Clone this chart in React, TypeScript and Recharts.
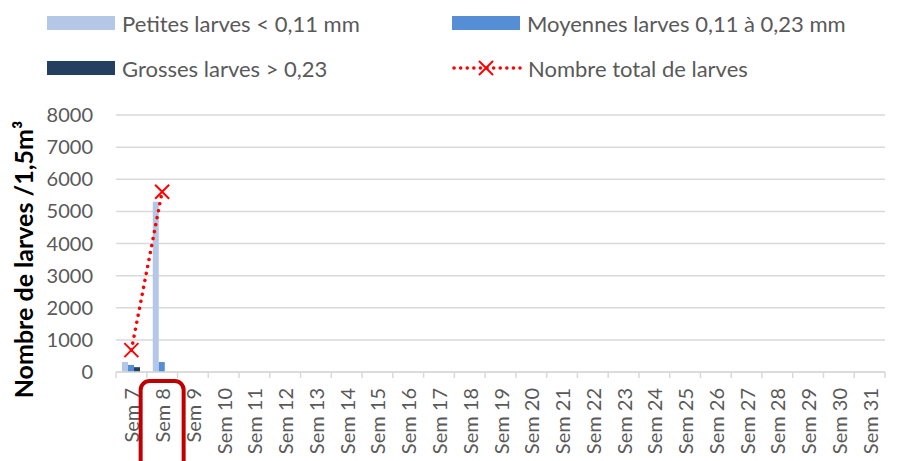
import React from 'react';
import { ComposedChart, Bar, Line, XAxis, YAxis, CartesianGrid } from 'recharts';

const weeks = [
  'Sem 7', 'Sem 8', 'Sem 9', 'Sem 10', 'Sem 11', 'Sem 12', 'Sem 13', 'Sem 14', 'Sem 15',
  'Sem 16', 'Sem 17', 'Sem 18', 'Sem 19', 'Sem 20', 'Sem 21', 'Sem 22', 'Sem 23', 'Sem 24',
  'Sem 25', 'Sem 26', 'Sem 27', 'Sem 28', 'Sem 29', 'Sem 30', 'Sem 31',
];

// larves / 1,5 m3, only weeks 7 and 8 were sampled
const petites = [310, 5300, null, null, null, null, null, null, null, null, null, null, null, null, null, null, null, null, null, null, null, null, null, null, null];
const moyennes = [220, 310, null, null, null, null, null, null, null, null, null, null, null, null, null, null, null, null, null, null, null, null, null, null, null];
const grosses = [150, 0, null, null, null, null, null, null, null, null, null, null, null, null, null, null, null, null, null, null, null, null, null, null, null];
const totals = [680, 5610, null, null, null, null, null, null, null, null, null, null, null, null, null, null, null, null, null, null, null, null, null, null, null];

const yTicks = [0, 1000, 2000, 3000, 4000, 5000, 6000, 7000, 8000];
const highlighted = 'Sem 8';

const COLORS = {
  petites: '#B4C7E7',
  moyennes: '#558ED5',
  grosses: '#243F60',
  total: '#FF0000',
  grid: '#D9D9D9',
  text: '#595959',
  box: '#C00000',
};

const FONT = 'Lato, "Open Sans", sans-serif';

const data = weeks.map((week, i) => ({
  week,
  petites: petites[i],
  moyennes: moyennes[i],
  grosses: grosses[i],
  total: totals[i],
}));

const Cross = ({ cx, cy, size = 7, width = 2 }: { cx: number; cy: number; size?: number; width?: number }) => (
  <g stroke={COLORS.total} strokeWidth={width}>
    <line x1={cx - size} y1={cy - size} x2={cx + size} y2={cy + size} />
    <line x1={cx - size} y1={cy + size} x2={cx + size} y2={cy - size} />
  </g>
);

const TotalDot = (props: any) => {
  const { cx, cy, value, index } = props;
  if (value == null || cx == null || cy == null) return <g key={`d-${index}`} />;
  return <Cross key={`d-${index}`} cx={cx} cy={cy} />;
};

// Excel style: tick marks between categories, vertical labels
const WeekTick = (props: any) => {
  const { x, y, payload, index, visibleTicksCount } = props;
  const half = payload && payload.offset ? payload.offset : 15.4;
  const ty = y + 16;
  return (
    <g>
      <line x1={x - half} y1={y} x2={x - half} y2={y + 6} stroke={COLORS.grid} strokeWidth={1.5} />
      {index === visibleTicksCount - 1 && (
        <line x1={x + half} y1={y} x2={x + half} y2={y + 6} stroke={COLORS.grid} strokeWidth={1.5} />
      )}
      <text
        x={x}
        y={ty}
        transform={`rotate(-90, ${x}, ${ty})`}
        textAnchor="end"
        dominantBaseline="central"
        fill={COLORS.text}
        fontSize={20}
        fontFamily={FONT}
      >
        {payload.value}
      </text>
      {payload.value === highlighted && (
        <rect x={x - 21.5} y={y + 9} width={43} height={110} rx={9} fill="none" stroke={COLORS.box} strokeWidth={4} />
      )}
    </g>
  );
};

const YTitle = (props: any) => {
  const vb = props.viewBox || { x: 0, y: 115, width: 116, height: 257 };
  const tx = vb.x + 23;
  const ty = vb.y + vb.height / 2 + 16;
  return (
    <text
      x={tx}
      y={ty}
      transform={`rotate(-90, ${tx}, ${ty})`}
      textAnchor="middle"
      dominantBaseline="central"
      fontSize={25}
      fontWeight={700}
      fill="#000"
      fontFamily={FONT}
    >
      Nombre de larves /1,5m³
    </text>
  );
};

const legendItems = [
  { label: 'Petites larves < 0,11 mm', color: COLORS.petites, left: 47, top: 16 },
  { label: 'Moyennes larves 0,11 à 0,23 mm', color: COLORS.moyennes, left: 452, top: 16 },
  { label: 'Grosses larves > 0,23', color: COLORS.grosses, left: 47, top: 61 },
  { label: 'Nombre total de larves', color: COLORS.total, left: 452, top: 61, line: true },
];

const Legend = () => (
  <>
    {legendItems.map((item) => (
      <div
        key={item.label}
        style={{
          position: 'absolute',
          left: item.left,
          top: item.top - 6,
          height: 26,
          display: 'flex',
          alignItems: 'center',
          fontFamily: FONT,
          fontSize: 22,
          color: COLORS.text,
          whiteSpace: 'nowrap',
        }}
      >
        {item.line ? (
          <svg width={70} height={26} style={{ marginRight: 6 }}>
            <line x1={2} y1={13} x2={68} y2={13} stroke={item.color} strokeWidth={3.5} strokeDasharray="0.1 6.5" strokeLinecap="round" />
            <Cross cx={34} cy={13} size={7} width={2} />
          </svg>
        ) : (
          <div style={{ width: 68, height: 14, background: item.color, marginRight: 7 }} />
        )}
        <span>{item.label}</span>
      </div>
    ))}
  </>
);

export default function App() {
  return (
    <div style={{ position: 'relative', width: 903, height: 461, background: '#fff', overflow: 'hidden' }}>
      <style>{`body { margin: 0; }`}</style>
      <Legend />
      <ComposedChart
        width={903}
        height={461}
        data={data}
        margin={{ top: 115, right: 18, bottom: 0, left: 0 }}
        barGap={0}
      >
        <CartesianGrid vertical={false} stroke={COLORS.grid} strokeWidth={1.5} />
        <XAxis
          dataKey="week"
          height={89}
          interval={0}
          tickLine={false}
          tickSize={0}
          tickMargin={0}
          axisLine={{ stroke: COLORS.grid, strokeWidth: 1.5 }}
          tick={<WeekTick />}
        />
        <YAxis
          width={116}
          domain={[0, 8000]}
          ticks={yTicks}
          interval={0}
          axisLine={false}
          tickLine={false}
          tickSize={0}
          tickMargin={23}
          tick={{ fill: COLORS.text, fontSize: 20, fontFamily: FONT }}
          label={<YTitle />}
        />
        <Bar dataKey="petites" fill={COLORS.petites} barSize={6} isAnimationActive={false} />
        <Bar dataKey="moyennes" fill={COLORS.moyennes} barSize={6} isAnimationActive={false} />
        <Bar dataKey="grosses" fill={COLORS.grosses} barSize={6} isAnimationActive={false} />
        <Line
          dataKey="total"
          type="linear"
          stroke={COLORS.total}
          strokeWidth={3.5}
          strokeDasharray="0.1 7"
          strokeLinecap="round"
          dot={TotalDot}
          activeDot={false}
          isAnimationActive={false}
        />
      </ComposedChart>
    </div>
  );
}
